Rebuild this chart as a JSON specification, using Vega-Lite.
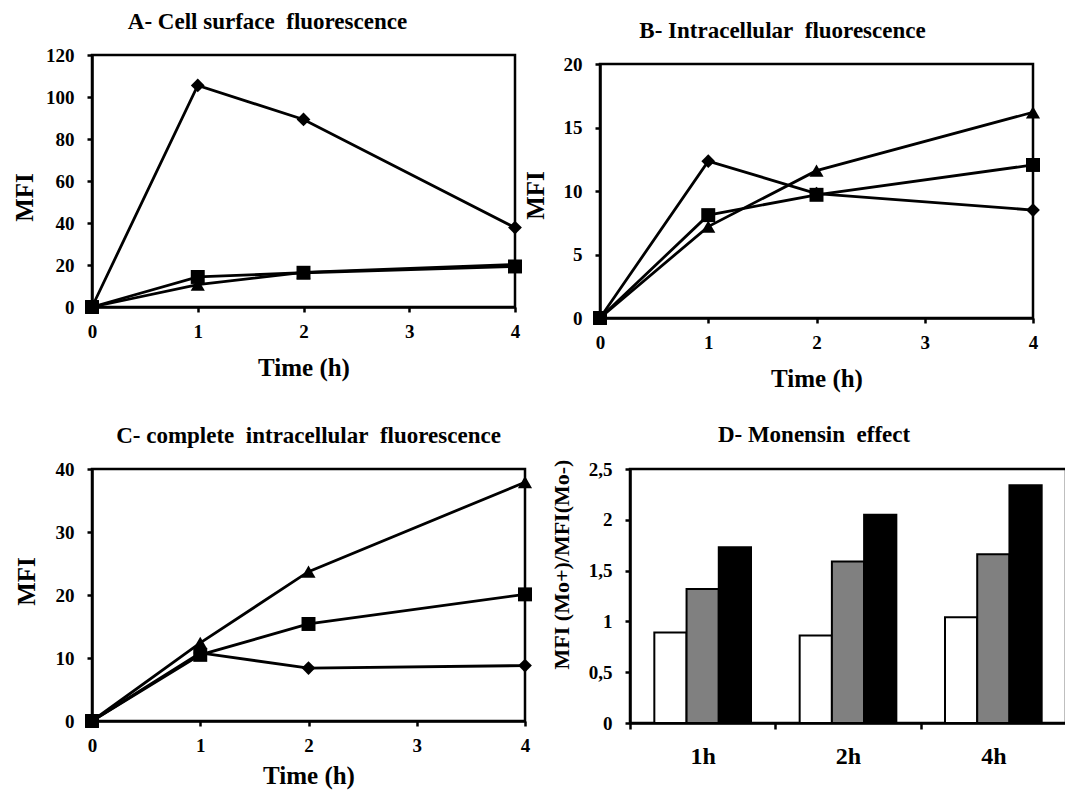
{
  "$schema": "https://vega.github.io/schema/vega-lite/v6.json",
  "padding": {"left": 10, "top": 9, "right": 0, "bottom": 0},
  "background": "white",
  "datasets": {
    "A": [
      {"t": 0, "v": 0, "s": "diamond"}, {"t": 1, "v": 105.5, "s": "diamond"}, {"t": 2, "v": 89.3, "s": "diamond"}, {"t": 4, "v": 37.8, "s": "diamond"},
      {"t": 0, "v": 0, "s": "square"}, {"t": 1, "v": 14.3, "s": "square"}, {"t": 2, "v": 16.3, "s": "square"}, {"t": 4, "v": 19.3, "s": "square"},
      {"t": 0, "v": 0, "s": "triangle"}, {"t": 1, "v": 10.7, "s": "triangle"}, {"t": 2, "v": 16.5, "s": "triangle"}, {"t": 4, "v": 20.3, "s": "triangle"}
    ],
    "B": [
      {"t": 0, "v": 0, "s": "diamond"}, {"t": 1, "v": 12.35, "s": "diamond"}, {"t": 2, "v": 9.8, "s": "diamond"}, {"t": 4, "v": 8.5, "s": "diamond"},
      {"t": 0, "v": 0, "s": "square"}, {"t": 1, "v": 8.1, "s": "square"}, {"t": 2, "v": 9.7, "s": "square"}, {"t": 4, "v": 12.05, "s": "square"},
      {"t": 0, "v": 0, "s": "triangle"}, {"t": 1, "v": 7.2, "s": "triangle"}, {"t": 2, "v": 11.6, "s": "triangle"}, {"t": 4, "v": 16.2, "s": "triangle"}
    ],
    "C": [
      {"t": 0, "v": 0, "s": "diamond"}, {"t": 1, "v": 10.8, "s": "diamond"}, {"t": 2, "v": 8.4, "s": "diamond"}, {"t": 4, "v": 8.8, "s": "diamond"},
      {"t": 0, "v": 0, "s": "square"}, {"t": 1, "v": 10.5, "s": "square"}, {"t": 2, "v": 15.4, "s": "square"}, {"t": 4, "v": 20.1, "s": "square"},
      {"t": 0, "v": 0, "s": "triangle"}, {"t": 1, "v": 12.4, "s": "triangle"}, {"t": 2, "v": 23.7, "s": "triangle"}, {"t": 4, "v": 37.9, "s": "triangle"}
    ],
    "D": [
      {"time": "1h", "g": "a", "v": 0.89}, {"time": "1h", "g": "b", "v": 1.32}, {"time": "1h", "g": "c", "v": 1.73},
      {"time": "2h", "g": "a", "v": 0.86}, {"time": "2h", "g": "b", "v": 1.59}, {"time": "2h", "g": "c", "v": 2.05},
      {"time": "4h", "g": "a", "v": 1.04}, {"time": "4h", "g": "b", "v": 1.66}, {"time": "4h", "g": "c", "v": 2.34}
    ]
  },
  "bounds": "flush",
  "spacing": 414,
  "vconcat": [
    {
      "bounds": "flush",
      "spacing": 85,
      "hconcat": [
        {
          "width": 423, "height": 252,
          "view": {"stroke": "black", "strokeWidth": 2.5},
          "title": {"text": "A- Cell surface\u00a0\u00a0fluorescence", "dx": -36},
          "data": {"name": "A"},
          "encoding": {
            "x": {"field": "t", "type": "quantitative", "scale": {"domain": [0, 4], "nice": false}, "axis": {"values": [0, 1, 2, 3, 4], "format": "d", "title": "Time (h)"}},
            "y": {"field": "v", "type": "quantitative", "scale": {"domain": [0, 120], "nice": false}, "axis": {"values": [0, 20, 40, 60, 80, 100, 120], "title": "MFI", "titleX": -60, "titleY": 142}}
          },
          "layer": [
            {"mark": {"type": "line", "color": "black", "strokeWidth": 2.8}, "encoding": {"detail": {"field": "s"}}},
            {"mark": {"type": "point", "filled": true, "color": "black", "opacity": 1},
             "encoding": {
               "shape": {"field": "s", "type": "nominal", "scale": {"domain": ["diamond", "square", "triangle"], "range": ["diamond", "square", "triangle-up"]}, "legend": null},
               "size": {"field": "s", "type": "nominal", "scale": {"domain": ["diamond", "square", "triangle"], "range": [190, 200, 210]}, "legend": null}
             }}
          ]
        },
        {
          "bounds": "flush",
          "spacing": 8,
          "vconcat": [
            {"width": 433, "height": 1, "data": {"values": [{"a": 1}]}, "mark": {"type": "point", "opacity": 0}},
            {
              "width": 433, "height": 254,
              "view": {"stroke": "black", "strokeWidth": 2.5},
              "title": {"text": "B- Intracellular\u00a0\u00a0fluorescence", "dx": -34},
              "data": {"name": "B"},
              "encoding": {
                "x": {"field": "t", "type": "quantitative", "scale": {"domain": [0, 4], "nice": false}, "axis": {"values": [0, 1, 2, 3, 4], "format": "d", "title": "Time (h)"}},
                "y": {"field": "v", "type": "quantitative", "scale": {"domain": [0, 20], "nice": false}, "axis": {"values": [0, 5, 10, 15, 20], "title": "MFI", "titleX": -57, "titleY": 131}}
              },
              "layer": [
                {"mark": {"type": "line", "color": "black", "strokeWidth": 2.8}, "encoding": {"detail": {"field": "s"}}},
                {"mark": {"type": "point", "filled": true, "color": "black", "opacity": 1},
                 "encoding": {
                   "shape": {"field": "s", "type": "nominal", "scale": {"domain": ["diamond", "square", "triangle"], "range": ["diamond", "square", "triangle-up"]}, "legend": null},
                   "size": {"field": "s", "type": "nominal", "scale": {"domain": ["diamond", "square", "triangle"], "range": [190, 200, 210]}, "legend": null}
                 }}
              ]
            }
          ]
        }
      ]
    },
    {
      "bounds": "flush",
      "spacing": 105,
      "hconcat": [
        {
          "width": 433, "height": 252,
          "view": {"stroke": "black", "strokeWidth": 2.5},
          "title": {"text": "C- complete\u00a0\u00a0intracellular\u00a0\u00a0fluorescence", "dx": 0},
          "data": {"name": "C"},
          "encoding": {
            "x": {"field": "t", "type": "quantitative", "scale": {"domain": [0, 4], "nice": false}, "axis": {"values": [0, 1, 2, 3, 4], "format": "d", "title": "Time (h)", "titlePadding": 8}},
            "y": {"field": "v", "type": "quantitative", "scale": {"domain": [0, 40], "nice": false}, "axis": {"values": [0, 10, 20, 30, 40], "title": "MFI", "titleX": -58, "titleY": 112}}
          },
          "layer": [
            {"mark": {"type": "line", "color": "black", "strokeWidth": 2.8}, "encoding": {"detail": {"field": "s"}}},
            {"mark": {"type": "point", "filled": true, "color": "black", "opacity": 1},
             "encoding": {
               "shape": {"field": "s", "type": "nominal", "scale": {"domain": ["diamond", "square", "triangle"], "range": ["diamond", "square", "triangle-up"]}, "legend": null},
               "size": {"field": "s", "type": "nominal", "scale": {"domain": ["diamond", "square", "triangle"], "range": [190, 200, 210]}, "legend": null}
             }}
          ]
        },
        {
          "width": 436, "height": 254,
          "view": {"stroke": "black", "strokeWidth": 2.5},
          "title": {"text": "D- Monensin\u00a0\u00a0effect", "dx": -34},
          "data": {"name": "D"},
          "mark": {"type": "bar", "stroke": "black", "strokeWidth": 2},
          "encoding": {
            "x": {"field": "time", "type": "nominal", "sort": ["1h", "2h", "4h"], "scale": {"paddingInner": 0, "paddingOuter": 0}, "axis": {"title": null, "tickBand": "extent", "labelFontSize": 24, "tickSize": 6, "labelPadding": 15, "labelAngle": 0}},
            "xOffset": {"field": "g", "type": "nominal", "sort": ["a", "b", "c"], "scale": {"paddingInner": 0, "paddingOuter": 0.755}},
            "y": {"field": "v", "type": "quantitative", "scale": {"domain": [0, 2.5], "nice": false}, "axis": {"values": [0, 0.5, 1, 1.5, 2, 2.5], "labelExpr": "replace(format(datum.value, '.1~f'), '.', ',')", "title": "MFI (Mo+)/MFI(Mo-)", "titleFontSize": 22, "titleX": -62, "titleY": 95}},
            "fill": {"field": "g", "type": "nominal", "scale": {"domain": ["a", "b", "c"], "range": ["white", "#808080", "black"]}, "legend": null}
          }
        }
      ]
    }
  ],
  "config": {
    "font": "Liberation Serif",
    "view": {"stroke": null},
    "axis": {
      "grid": false,
      "domainColor": "black", "domainWidth": 2.5,
      "tickColor": "black", "tickWidth": 2.5, "tickSize": 5,
      "labelFont": "Liberation Serif", "labelFontWeight": "bold", "labelFontSize": 19, "labelColor": "black",
      "labelOverlap": false, "labelFlush": false,
      "titleFont": "Liberation Serif", "titleFontWeight": "bold", "titleFontSize": 25, "titleColor": "black"
    },
    "axisX": {"labelPadding": 10, "titlePadding": 14, "labelAngle": 0},
    "axisY": {"labelPadding": 13, "titleAngle": -90, "titleBaseline": "alphabetic", "titleAlign": "center"},
    "title": {"font": "Liberation Serif", "fontWeight": "bold", "fontSize": 23, "color": "black", "anchor": "middle", "frame": "group", "offset": 12}
  }
}
